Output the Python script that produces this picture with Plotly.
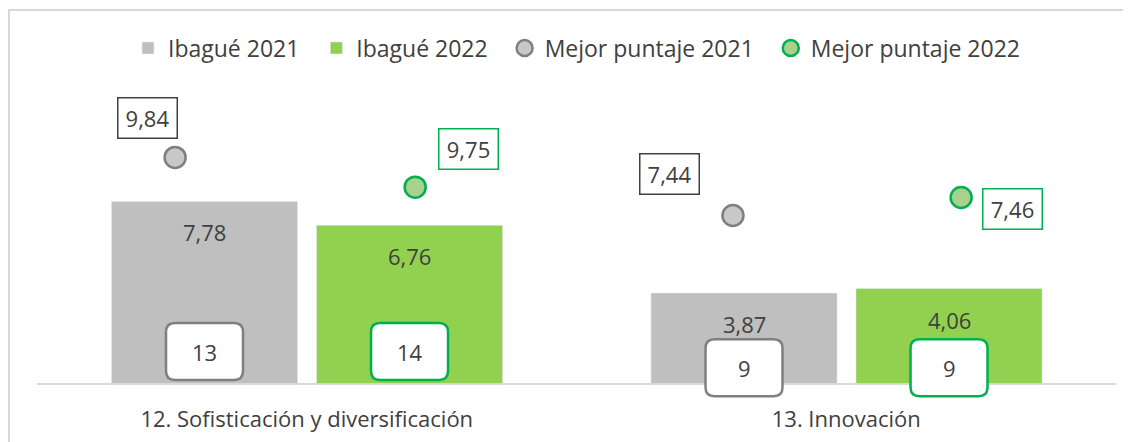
import plotly.graph_objects as go

# categorias y series
categorias = ["12. Sofisticación y diversificación", "13. Innovación"]
ibague_2021 = [7.78, 3.87]
ibague_2022 = [6.76, 4.06]
rank_2021 = [13, 9]
rank_2022 = [14, 9]

# mejor puntaje: etiqueta real y posicion graficada (serie XY de Excel)
mejor_2021_label = [9.84, 7.44]
mejor_2022_label = [9.75, 7.46]
mejor_2021_x = [-0.244, 0.79]
mejor_2021_y = [9.66, 7.18]
mejor_2022_x = [0.201, 1.213]
mejor_2022_y = [8.39, 7.95]

# serie oculta que sostiene las etiquetas de ranking
rank_pos_y = [1.37, 0.68]

GRIS = "#bfbfbf"
VERDE = "#92d050"
TXT = "#404040"
FONT = "Open Sans"
FS = 22
NB = "\u00a0" * 2  # separacion extra entre items de la leyenda

x = list(range(len(categorias)))
BW = 0.345
OFF_2021 = -0.362
OFF_2022 = 0.018

# la pagina tiene 8px de margen en el body
W, H = 1123, 434
ML, MR, MT, MB = 29, 15, 104, 42
PH = H - MT - MB
PW = W - ML - MR


def fmt(v):
    return f"{v:.2f}".replace(".", ",")


def rounded_box(w, h, r):
    a, b = w / 2, h / 2
    return (f"M {-a + r},{-b} L {a - r},{-b} Q {a},{-b} {a},{-b + r} "
            f"L {a},{b - r} Q {a},{b} {a - r},{b} L {-a + r},{b} "
            f"Q {-a},{b} {-a},{b - r} L {-a},{-b + r} Q {-a},{-b} {-a + r},{-b} Z")


fig = go.Figure()

fig.add_trace(go.Bar(x=x, y=ibague_2021, name="Ibagué 2021" + NB, marker_color=GRIS,
                     width=BW, offset=OFF_2021, hoverinfo="skip"))
fig.add_trace(go.Bar(x=x, y=ibague_2022, name="Ibagué 2022" + NB, marker_color=VERDE,
                     width=BW, offset=OFF_2022, hoverinfo="skip"))

fig.add_trace(go.Scatter(x=mejor_2021_x, y=mejor_2021_y, mode="markers",
                         name="Mejor puntaje 2021" + NB,
                         marker=dict(size=21, color="#c8c8c8",
                                     line=dict(color="#7f7f7f", width=2.5))))
fig.add_trace(go.Scatter(x=mejor_2022_x, y=mejor_2022_y, mode="markers",
                         name="Mejor puntaje 2022",
                         marker=dict(size=21, color="#a9d18e",
                                     line=dict(color="#00b050", width=2.5))))

# etiquetas de valor de las barras
for i in x:
    for val, off in ((ibague_2021[i], OFF_2021), (ibague_2022[i], OFF_2022)):
        fig.add_annotation(x=i + off + BW / 2, y=val, text=fmt(val), showarrow=False,
                           yshift=-31, font=dict(size=FS, color=TXT, family=FONT))

# cajas de ranking
box_path = rounded_box(77, 57, 9)
for i in x:
    for rk, off, col in ((rank_2021[i], OFF_2021, "#7f7f7f"), (rank_2022[i], OFF_2022, "#00b050")):
        cx = i + off + BW / 2
        fig.add_shape(type="path", xref="x", yref="y", xsizemode="pixel", ysizemode="pixel",
                      xanchor=cx, yanchor=rank_pos_y[i], path=box_path,
                      line=dict(color=col, width=2.5), fillcolor="white")
        fig.add_annotation(x=cx, y=rank_pos_y[i], text=str(rk), showarrow=False,
                           font=dict(size=FS, color=TXT, family=FONT))

# etiquetas del mejor puntaje
lab_shift_2021 = [(-28, 39), (-63, 41)]
lab_shift_2022 = [(53, 38), (51, -12)]
for xs, ys, labs, shifts, col in (
        (mejor_2021_x, mejor_2021_y, mejor_2021_label, lab_shift_2021, "#404040"),
        (mejor_2022_x, mejor_2022_y, mejor_2022_label, lab_shift_2022, "#00b050")):
    for xv, yv, lab, (dx, dy) in zip(xs, ys, labs, shifts):
        fig.add_annotation(x=xv, y=yv, text=fmt(lab), showarrow=False,
                           xshift=dx, yshift=dy, width=58, height=39,
                           bordercolor=col, borderwidth=1.5, borderpad=0,
                           bgcolor="white", font=dict(size=FS, color=TXT, family=FONT))

# borde del area del grafico
fig.add_shape(type="rect", xref="paper", yref="paper",
              x0=-(ML - 1) / PW, x1=1.2, y0=-1, y1=1 + (MT - 2) / PH,
              line=dict(color="#d9d9d9", width=2), fillcolor="rgba(0,0,0,0)", layer="below")

fig.update_layout(
    width=W, height=H,
    margin=dict(l=ML, r=MR, t=MT, b=MB, autoexpand=False),
    paper_bgcolor="white", plot_bgcolor="white",
    font=dict(family=FONT, size=FS, color=TXT),
    barmode="overlay",
    showlegend=True,
    legend=dict(orientation="h", x=0.5, xanchor="center", y=1 + (MT - 40) / PH,
                yanchor="middle", font=dict(size=23, color=TXT), itemclick=False),
    xaxis=dict(range=[-0.5, 1.5], tickvals=x, ticktext=categorias, showgrid=False,
               showline=False, zeroline=False, ticks="", ticklabelstandoff=4,
               tickfont=dict(size=FS, color=TXT)),
    yaxis=dict(range=[-0.7, 11.6], showgrid=False, showticklabels=False,
               zeroline=True, zerolinecolor="#d9d9d9", zerolinewidth=2),
)

fig.write_html("out.html")
